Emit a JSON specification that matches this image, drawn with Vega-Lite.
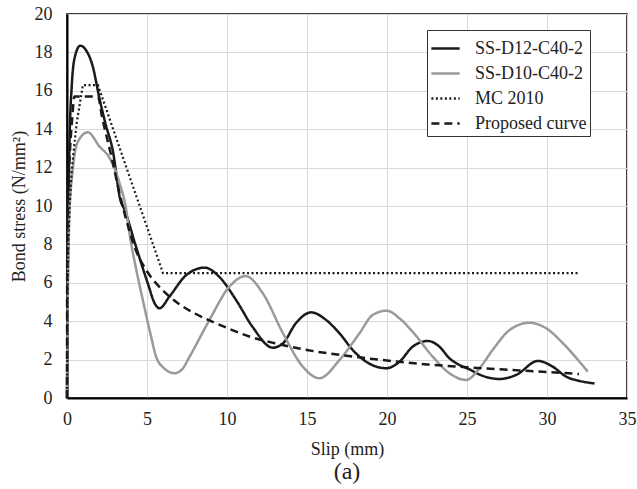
{
  "$schema": "https://vega.github.io/schema/vega-lite/v6.json",
  "width": 560,
  "height": 384,
  "autosize": {"type": "none"},
  "padding": {"left": 67, "top": 14, "right": 10, "bottom": 91},
  "background": "white",
  "config": {
    "font": "Liberation Serif",
    "style": {
      "guide-label": {"font": "Liberation Serif", "fontWeight": "normal"},
      "guide-title": {"font": "Liberation Serif", "fontWeight": "normal"},
      "group-title": {"font": "Liberation Serif", "fontWeight": "normal"}
    },
    "view": {"stroke": "black", "strokeWidth": 1.5},
    "axis": {
      "labelFont": "Liberation Serif",
      "titleFont": "Liberation Serif",
      "labelFontSize": 18,
      "titleFontSize": 18,
      "labelColor": "#222",
      "titleColor": "#222",
      "titleFontWeight": "normal",
      "gridColor": "#d9d9d9",
      "gridWidth": 1,
      "domainColor": "black",
      "domainWidth": 2,
      "ticks": false
    }
  },
  "title": {
    "text": "(a)",
    "orient": "bottom",
    "fontSize": 24,
    "font": "Liberation Serif",
    "fontWeight": "normal",
    "color": "#222",
    "offset": 2,
    "anchor": "middle"
  },
  "data": {
    "values": [
      {"series": "SS-D12-C40-2", "slip": 0, "stress": 0},
      {"series": "SS-D12-C40-2", "slip": 0.03, "stress": 4},
      {"series": "SS-D12-C40-2", "slip": 0.08, "stress": 9},
      {"series": "SS-D12-C40-2", "slip": 0.15, "stress": 13},
      {"series": "SS-D12-C40-2", "slip": 0.3, "stress": 16.3},
      {"series": "SS-D12-C40-2", "slip": 0.5, "stress": 17.8},
      {"series": "SS-D12-C40-2", "slip": 0.83, "stress": 18.35},
      {"series": "SS-D12-C40-2", "slip": 1.2, "stress": 18.1},
      {"series": "SS-D12-C40-2", "slip": 1.6, "stress": 17.3},
      {"series": "SS-D12-C40-2", "slip": 2.03, "stress": 15.6},
      {"series": "SS-D12-C40-2", "slip": 2.4, "stress": 14.3},
      {"series": "SS-D12-C40-2", "slip": 2.86, "stress": 12.9},
      {"series": "SS-D12-C40-2", "slip": 3.34, "stress": 10.3},
      {"series": "SS-D12-C40-2", "slip": 3.6, "stress": 9.8},
      {"series": "SS-D12-C40-2", "slip": 4.28, "stress": 7.97},
      {"series": "SS-D12-C40-2", "slip": 5.05, "stress": 5.97},
      {"series": "SS-D12-C40-2", "slip": 5.5, "stress": 4.9},
      {"series": "SS-D12-C40-2", "slip": 5.78, "stress": 4.67},
      {"series": "SS-D12-C40-2", "slip": 6.4, "stress": 5.28},
      {"series": "SS-D12-C40-2", "slip": 7.45, "stress": 6.4},
      {"series": "SS-D12-C40-2", "slip": 8.6, "stress": 6.79},
      {"series": "SS-D12-C40-2", "slip": 9.53, "stress": 6.3},
      {"series": "SS-D12-C40-2", "slip": 10.57, "stress": 5.1},
      {"series": "SS-D12-C40-2", "slip": 11.6, "stress": 3.7},
      {"series": "SS-D12-C40-2", "slip": 12.86, "stress": 2.62},
      {"series": "SS-D12-C40-2", "slip": 13.5, "stress": 2.85},
      {"series": "SS-D12-C40-2", "slip": 14.3, "stress": 3.89},
      {"series": "SS-D12-C40-2", "slip": 15.26, "stress": 4.46},
      {"series": "SS-D12-C40-2", "slip": 16.2, "stress": 4.06},
      {"series": "SS-D12-C40-2", "slip": 17.03, "stress": 3.37},
      {"series": "SS-D12-C40-2", "slip": 17.86, "stress": 2.5},
      {"series": "SS-D12-C40-2", "slip": 18.7, "stress": 1.89},
      {"series": "SS-D12-C40-2", "slip": 19.95, "stress": 1.55},
      {"series": "SS-D12-C40-2", "slip": 20.78, "stress": 1.89},
      {"series": "SS-D12-C40-2", "slip": 21.6, "stress": 2.67},
      {"series": "SS-D12-C40-2", "slip": 22.55, "stress": 2.97},
      {"series": "SS-D12-C40-2", "slip": 23.28, "stress": 2.67},
      {"series": "SS-D12-C40-2", "slip": 23.9, "stress": 2.07},
      {"series": "SS-D12-C40-2", "slip": 24.53, "stress": 1.72},
      {"series": "SS-D12-C40-2", "slip": 25.16, "stress": 1.49},
      {"series": "SS-D12-C40-2", "slip": 25.78, "stress": 1.22},
      {"series": "SS-D12-C40-2", "slip": 27.03, "stress": 0.99},
      {"series": "SS-D12-C40-2", "slip": 28.07, "stress": 1.2},
      {"series": "SS-D12-C40-2", "slip": 29.43, "stress": 1.93},
      {"series": "SS-D12-C40-2", "slip": 30.36, "stress": 1.63},
      {"series": "SS-D12-C40-2", "slip": 31.2, "stress": 1.11},
      {"series": "SS-D12-C40-2", "slip": 32.03, "stress": 0.89},
      {"series": "SS-D12-C40-2", "slip": 32.97, "stress": 0.76},

      {"series": "SS-D10-C40-2", "slip": 0, "stress": 0},
      {"series": "SS-D10-C40-2", "slip": 0.05, "stress": 5},
      {"series": "SS-D10-C40-2", "slip": 0.15, "stress": 9.5},
      {"series": "SS-D10-C40-2", "slip": 0.36, "stress": 11.9},
      {"series": "SS-D10-C40-2", "slip": 0.68, "stress": 13.35},
      {"series": "SS-D10-C40-2", "slip": 1.3, "stress": 13.84},
      {"series": "SS-D10-C40-2", "slip": 2.03, "stress": 13.1},
      {"series": "SS-D10-C40-2", "slip": 2.66, "stress": 12.5},
      {"series": "SS-D10-C40-2", "slip": 3.0, "stress": 11.9},
      {"series": "SS-D10-C40-2", "slip": 3.28, "stress": 11.2},
      {"series": "SS-D10-C40-2", "slip": 3.7, "stress": 9.8},
      {"series": "SS-D10-C40-2", "slip": 3.9, "stress": 8.6},
      {"series": "SS-D10-C40-2", "slip": 4.3, "stress": 6.8},
      {"series": "SS-D10-C40-2", "slip": 4.74, "stress": 5.1},
      {"series": "SS-D10-C40-2", "slip": 5.2, "stress": 3.4},
      {"series": "SS-D10-C40-2", "slip": 5.57, "stress": 2.15},
      {"series": "SS-D10-C40-2", "slip": 6.0, "stress": 1.6},
      {"series": "SS-D10-C40-2", "slip": 6.72, "stress": 1.29},
      {"series": "SS-D10-C40-2", "slip": 7.2, "stress": 1.5},
      {"series": "SS-D10-C40-2", "slip": 7.66, "stress": 2.15},
      {"series": "SS-D10-C40-2", "slip": 8.9, "stress": 4.06},
      {"series": "SS-D10-C40-2", "slip": 10.15, "stress": 5.8},
      {"series": "SS-D10-C40-2", "slip": 11.16, "stress": 6.35},
      {"series": "SS-D10-C40-2", "slip": 12.24, "stress": 5.45},
      {"series": "SS-D10-C40-2", "slip": 13.5, "stress": 3.37},
      {"series": "SS-D10-C40-2", "slip": 14.74, "stress": 1.63},
      {"series": "SS-D10-C40-2", "slip": 15.78, "stress": 1.03},
      {"series": "SS-D10-C40-2", "slip": 17.03, "stress": 1.98},
      {"series": "SS-D10-C40-2", "slip": 18.28, "stress": 3.37},
      {"series": "SS-D10-C40-2", "slip": 19.1, "stress": 4.32},
      {"series": "SS-D10-C40-2", "slip": 19.98, "stress": 4.55},
      {"series": "SS-D10-C40-2", "slip": 20.78, "stress": 4.15},
      {"series": "SS-D10-C40-2", "slip": 21.6, "stress": 3.45},
      {"series": "SS-D10-C40-2", "slip": 22.86, "stress": 2.15},
      {"series": "SS-D10-C40-2", "slip": 23.9, "stress": 1.29},
      {"series": "SS-D10-C40-2", "slip": 24.95, "stress": 0.94},
      {"series": "SS-D10-C40-2", "slip": 25.78, "stress": 1.55},
      {"series": "SS-D10-C40-2", "slip": 26.6, "stress": 2.5},
      {"series": "SS-D10-C40-2", "slip": 27.66, "stress": 3.54},
      {"series": "SS-D10-C40-2", "slip": 28.9, "stress": 3.92},
      {"series": "SS-D10-C40-2", "slip": 29.95, "stress": 3.63},
      {"series": "SS-D10-C40-2", "slip": 31.0, "stress": 2.85},
      {"series": "SS-D10-C40-2", "slip": 32.03, "stress": 1.89},
      {"series": "SS-D10-C40-2", "slip": 32.55, "stress": 1.37},

      {"series": "MC 2010", "slip": 0, "stress": 0},
      {"series": "MC 2010", "slip": 0.03, "stress": 5.5},
      {"series": "MC 2010", "slip": 0.08, "stress": 7.8},
      {"series": "MC 2010", "slip": 0.16, "stress": 9.96},
      {"series": "MC 2010", "slip": 0.3, "stress": 11.9},
      {"series": "MC 2010", "slip": 0.47, "stress": 13.3},
      {"series": "MC 2010", "slip": 0.62, "stress": 14.4},
      {"series": "MC 2010", "slip": 0.78, "stress": 15.2},
      {"series": "MC 2010", "slip": 0.99, "stress": 16.3},
      {"series": "MC 2010", "slip": 1.93, "stress": 16.3},
      {"series": "MC 2010", "slip": 6.0, "stress": 6.5},
      {"series": "MC 2010", "slip": 32.0, "stress": 6.5},

      {"series": "Proposed curve", "slip": 0, "stress": 0},
      {"series": "Proposed curve", "slip": 0.01, "stress": 6.5},
      {"series": "Proposed curve", "slip": 0.02, "stress": 8.1},
      {"series": "Proposed curve", "slip": 0.05, "stress": 9.8},
      {"series": "Proposed curve", "slip": 0.1, "stress": 11.3},
      {"series": "Proposed curve", "slip": 0.2, "stress": 13.1},
      {"series": "Proposed curve", "slip": 0.3, "stress": 14.3},
      {"series": "Proposed curve", "slip": 0.47, "stress": 15.7},
      {"series": "Proposed curve", "slip": 1.93, "stress": 15.7},
      {"series": "Proposed curve", "slip": 2.2, "stress": 14.6},
      {"series": "Proposed curve", "slip": 2.8, "stress": 12.5},
      {"series": "Proposed curve", "slip": 3.3, "stress": 10.6},
      {"series": "Proposed curve", "slip": 3.8, "stress": 9.0},
      {"series": "Proposed curve", "slip": 4.3, "stress": 7.7},
      {"series": "Proposed curve", "slip": 5.0, "stress": 6.6},
      {"series": "Proposed curve", "slip": 6.0, "stress": 5.6},
      {"series": "Proposed curve", "slip": 7.0, "stress": 4.9},
      {"series": "Proposed curve", "slip": 8.0, "stress": 4.4},
      {"series": "Proposed curve", "slip": 9.0, "stress": 4.0},
      {"series": "Proposed curve", "slip": 10.0, "stress": 3.65},
      {"series": "Proposed curve", "slip": 11.4, "stress": 3.2},
      {"series": "Proposed curve", "slip": 13.0, "stress": 2.85},
      {"series": "Proposed curve", "slip": 15.0, "stress": 2.5},
      {"series": "Proposed curve", "slip": 17.5, "stress": 2.2},
      {"series": "Proposed curve", "slip": 20.0, "stress": 1.95},
      {"series": "Proposed curve", "slip": 22.5, "stress": 1.75},
      {"series": "Proposed curve", "slip": 25.0, "stress": 1.6},
      {"series": "Proposed curve", "slip": 28.7, "stress": 1.42},
      {"series": "Proposed curve", "slip": 32.0, "stress": 1.25}
    ]
  },
  "encoding": {
    "x": {
      "field": "slip",
      "type": "quantitative",
      "scale": {"domain": [0, 35], "nice": false},
      "axis": {"values": [0, 5, 10, 15, 20, 25, 30, 35], "title": "Slip (mm)", "labelFont": "Liberation Serif", "titleFont": "Liberation Serif", "labelPadding": 12, "titlePadding": 12, "labelFlush": false}
    },
    "y": {
      "field": "stress",
      "type": "quantitative",
      "scale": {"domain": [0, 20], "nice": false},
      "axis": {"values": [0, 2, 4, 6, 8, 10, 12, 14, 16, 18, 20], "title": "Bond stress (N/mm²)", "labelFont": "Liberation Serif", "titleFont": "Liberation Serif", "labelPadding": 15, "titlePadding": 6, "labelFlush": false}
    },
    "color": {
      "field": "series",
      "type": "nominal",
      "scale": {
        "domain": ["SS-D12-C40-2", "SS-D10-C40-2", "MC 2010", "Proposed curve"],
        "range": ["#1a1a1a", "#9a9a9a", "#1a1a1a", "#1a1a1a"]
      },
      "legend": {
        "title": null,
        "orient": "none",
        "legendX": 360,
        "legendY": 16,
        "symbolType": "stroke",
        "symbolSize": 800,
        "symbolStrokeWidth": 2.5,
        "labelFont": "Liberation Serif",
        "labelFontSize": 18,
        "labelColor": "#222",
        "labelOffset": 14,
        "rowPadding": 0,
        "padding": 3,
        "strokeColor": "#333",
        "fillColor": "white"
      }
    },
    "strokeDash": {
      "field": "series",
      "type": "nominal",
      "scale": {
        "domain": ["SS-D12-C40-2", "SS-D10-C40-2", "MC 2010", "Proposed curve"],
        "range": [[1, 0], [1, 0], [2, 2.5], [8, 5]]
      },
      "legend": null
    }
  },
  "layer": [
    {
      "transform": [{"filter": "datum.series === 'SS-D10-C40-2' || datum.series === 'SS-D12-C40-2'"}],
      "mark": {"type": "line", "interpolate": "monotone", "strokeWidth": 2.5}
    },
    {
      "transform": [{"filter": "datum.series === 'MC 2010'"}],
      "mark": {"type": "line", "interpolate": "linear", "strokeWidth": 2.2}
    },
    {
      "transform": [{"filter": "datum.series === 'Proposed curve'"}],
      "mark": {"type": "line", "interpolate": "monotone", "strokeWidth": 2.5}
    }
  ]
}
